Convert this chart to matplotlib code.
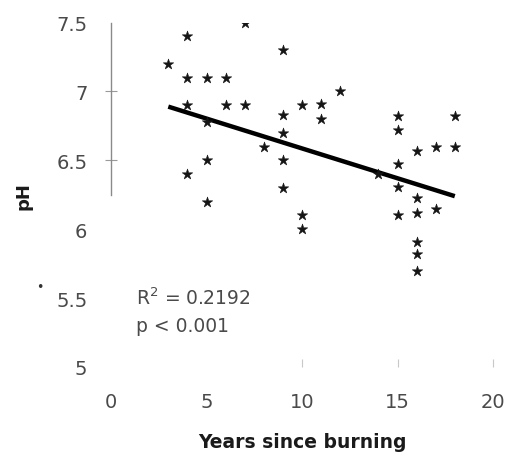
import matplotlib
matplotlib.use("Agg")
import matplotlib.pyplot as plt

# Data
years = [3, 4, 4, 4, 4, 5, 5, 5, 5, 6, 6, 7, 7, 8, 9, 9, 9, 9, 9,
         10, 10, 10, 11, 11, 12, 14, 15, 15, 15, 15, 15,
         16, 16, 16, 16, 16, 16, 17, 17, 18, 18]
ph = [7.2, 7.4, 7.1, 6.9, 6.4, 7.1, 6.78, 6.5, 6.2, 7.1, 6.9, 7.5, 6.9, 6.6,
      7.3, 6.83, 6.7, 6.5, 6.3, 6.9, 6.1, 6.0, 6.91, 6.8, 7.0, 6.4,
      6.82, 6.72, 6.47, 6.31, 6.1, 6.57, 6.23, 6.12, 5.91, 5.82, 5.7,
      6.6, 6.15, 6.82, 6.6]
trend_x = [3, 18]
trend_y = [6.89, 6.24]
x_ticks = [0, 5, 10, 15, 20]
y_ticks = [5, 5.5, 6, 6.5, 7, 7.5]
y_tick_labels = ["5", "5.5", "6", "6.5", "7", "7.5"]
stats_lines = ["R$^2$ = 0.2192", "p < 0.001"]

plt.rcParams['font.family'] = ['DejaVu Sans']

W, H = 507, 456
fig = plt.figure(figsize=(W / 100, H / 100), dpi=100)
left, right, top, bottom = 111, 493, 23.6, 368
ax = fig.add_axes([left / W, 1 - bottom / H, (right - left) / W, (bottom - top) / H])

ax.scatter(years, ph, marker='*', s=62, color='#151515', linewidths=0.4, zorder=3)
ax.plot(trend_x, trend_y, color='black', lw=3.2, solid_capstyle='butt', zorder=2)

ax.set_xlim(0, 20)
ax.set_ylim(5, 7.5)
ax.set_xticks(x_ticks)
ax.set_xticklabels([str(t) for t in x_ticks])
ax.set_yticks(y_ticks)
ax.set_yticklabels(y_tick_labels)

for s in ['top', 'right', 'bottom']:
    ax.spines[s].set_visible(False)
ax.spines['left'].set_color('#8a8a8a')
ax.spines['left'].set_linewidth(1.0)
ax.spines['left'].set_bounds(6.25, 7.5)

ax.tick_params(axis='y', direction='inout', length=8, width=0.8, color='#9a9a9a',
               pad=13, labelsize=14, labelcolor='#4a4a4a')
ax.tick_params(axis='x', direction='in', length=6, width=0.8, color='#c8c8c8',
               pad=18, labelsize=14, labelcolor='#4a4a4a')
yt = ax.yaxis.get_major_ticks()
for i, v in enumerate(y_ticks):
    if v < 6.5 or v > 7.2:
        yt[i].tick1line.set_visible(False)
xt = ax.xaxis.get_major_ticks()
for i, v in enumerate(x_ticks):
    if v < 10:
        xt[i].tick1line.set_visible(False)

ax.text(1.3, 5.505, stats_lines[0], fontsize=13.5, color='#4a4a4a', va='center', ha='left')
ax.text(1.3, 5.3, stats_lines[1], fontsize=13.5, color='#4a4a4a', va='center', ha='left')

fig.text(302 / W, 1 - 443 / H, "Years since burning", fontsize=13.5, fontweight='bold',
         color='#1a1a1a', ha='center', va='center')
fig.text(24 / W, 1 - 196 / H, "pH", fontsize=13, fontweight='bold', rotation=90,
         color='#1a1a1a', ha='center', va='center')
fig.text(40 / W, 1 - 288 / H, "•", fontsize=9, color='#333333', ha='center', va='center')

fig.savefig("out.png", dpi=100, facecolor='white')
